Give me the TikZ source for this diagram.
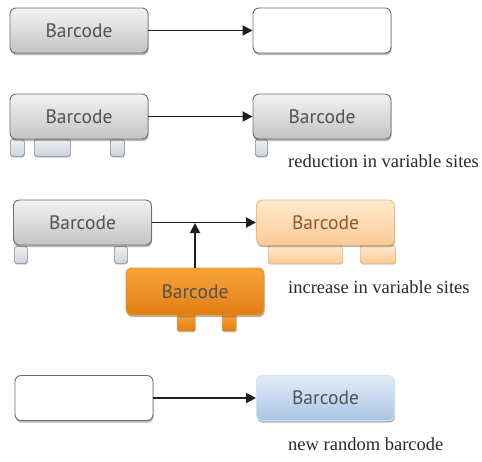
\documentclass[tikz,border=0pt]{standalone}
\usepackage{fontspec}
\setmainfont{Liberation Serif}
\newfontfamily\barfont{PT Sans}
\usetikzlibrary{arrows.meta,shadows}

\definecolor{boxline}{HTML}{6E6E6E}
\definecolor{greytop}{HTML}{F2F2F2}
\definecolor{greybot}{HTML}{C4C4C4}
\definecolor{foottop}{HTML}{EEF2F6}
\definecolor{footbot}{HTML}{C9D2DC}
\definecolor{orgtop}{HTML}{F6A33A}
\definecolor{orgbot}{HTML}{E27E12}
\definecolor{orgline}{HTML}{EE9128}
\definecolor{paletop}{HTML}{FEE9CF}
\definecolor{palebot}{HTML}{FBCB95}
\definecolor{paleline}{HTML}{F5BA78}
\definecolor{paletext}{HTML}{8A5A2E}
\definecolor{bluetop}{HTML}{E4EDF8}
\definecolor{bluebot}{HTML}{A9C5E6}
\definecolor{labeltext}{HTML}{2A2A2A}

\tikzset{
  x=1pt, y=-1pt,
  basebox/.style={rectangle, rounded corners=6pt, line width=0.9pt,
    minimum width=138pt, minimum height=45pt, inner sep=0pt,
    font=\barfont\fontsize{19.5}{21}\selectfont, text=black!68,
    drop shadow={shadow xshift=0.6pt, shadow yshift=-2.2pt, opacity=0.4, fill=black!70}},
  greybox/.style={basebox, draw=boxline, top color=greytop, bottom color=greybot},
  blankbox/.style={basebox, draw=boxline, fill=white},
  orangebox/.style={basebox, draw=orgline, top color=orgtop, bottom color=orgbot, minimum height=47pt},
  palebox/.style={basebox, draw=paleline, top color=paletop, bottom color=palebot, text=paletext},
  bluebox/.style={basebox, draw=bluetop!70!bluebot, top color=bluetop, bottom color=bluebot},
  foot/.style={rectangle, anchor=north west, rounded corners=2.5pt, inner sep=0pt,
    line width=0.7pt, draw=boxline!80, top color=foottop, bottom color=footbot,
    drop shadow={shadow xshift=0.4pt, shadow yshift=-1.2pt, opacity=0.3, fill=black!70}},
  orangefoot/.style={rectangle, anchor=north west, rounded corners=1.5pt, inner sep=0pt,
    draw=orgline, top color=orgtop, bottom color=orgbot,
    drop shadow={shadow xshift=0.4pt, shadow yshift=-1.2pt, opacity=0.3, fill=black!70}},
  palefoot/.style={rectangle, anchor=north west, rounded corners=2pt, inner sep=0pt,
    line width=0.7pt, draw=paleline, top color=paletop, bottom color=palebot,
    drop shadow={shadow xshift=0.4pt, shadow yshift=-1.2pt, opacity=0.3, fill=black!70}},
  link/.style={line width=1.9pt, black!88, -{Triangle[length=10pt,width=10pt]}},
  caption/.style={anchor=base west, inner sep=0pt, text=labeltext,
    font=\fontsize{18.5}{20}\selectfont}
}

\begin{document}
\begin{tikzpicture}
\useasboundingbox (0,0) rectangle (482,461);

% row 1: barcode lost entirely
\node[greybox]  (a1) at (79,30.5) {Barcode};
\node[blankbox] (b1) at (322,30.5) {};
\draw[link] (a1) -- (b1);

% row 2: fewer variable sites
\node[foot, minimum width=14pt, minimum height=17pt] (a2f1) at (10,139) {};
\node[foot, minimum width=36pt, minimum height=17pt] (a2f2) at (34,139) {};
\node[foot, minimum width=14pt, minimum height=17pt] (a2f3) at (110,139) {};
\node[greybox] (a2) at (79,116.5) {Barcode};
\node[foot, minimum width=12pt, minimum height=17pt] (b2f1) at (255,139) {};
\node[greybox] (b2) at (322,116.5) {Barcode};
\draw[link] (a2) -- (b2);
\node[caption] (c2) at (288,167) {reduction in variable sites};

% row 3: more variable sites via a second barcode
\node[foot, minimum width=13pt, minimum height=17pt] (a3f1) at (14,246) {};
\node[foot, minimum width=13pt, minimum height=17pt] (a3f2) at (114,246) {};
\node[greybox] (a3) at (82.5,222.5) {Barcode};
\node[palefoot, minimum width=74pt, minimum height=18pt] (b3f1) at (268,245) {};
\node[palefoot, minimum width=35pt, minimum height=18pt] (b3f2) at (360,245) {};
\node[palebox] (b3) at (325.5,222.5) {Barcode};
\node[orangefoot, minimum width=18pt, minimum height=17pt] (o3f1) at (177,314) {};
\node[orangefoot, minimum width=14pt, minimum height=17pt] (o3f2) at (222,314) {};
\node[orangebox] (o3) at (195,291.5) {Barcode};
\coordinate (join) at (195,223);
\draw[link] (a3) -- (b3);
\draw[link] (o3) -- (join);
\node[caption] (c3) at (288,293.5) {increase in variable sites};

% row 4: a new barcode from nothing
\node[blankbox] (a4) at (84,398) {};
\node[bluebox]  (b4) at (325.5,398) {Barcode};
\draw[link] (a4) -- (b4);
\node[caption] (c4) at (288,450) {new random barcode};
\end{tikzpicture}
\end{document}
